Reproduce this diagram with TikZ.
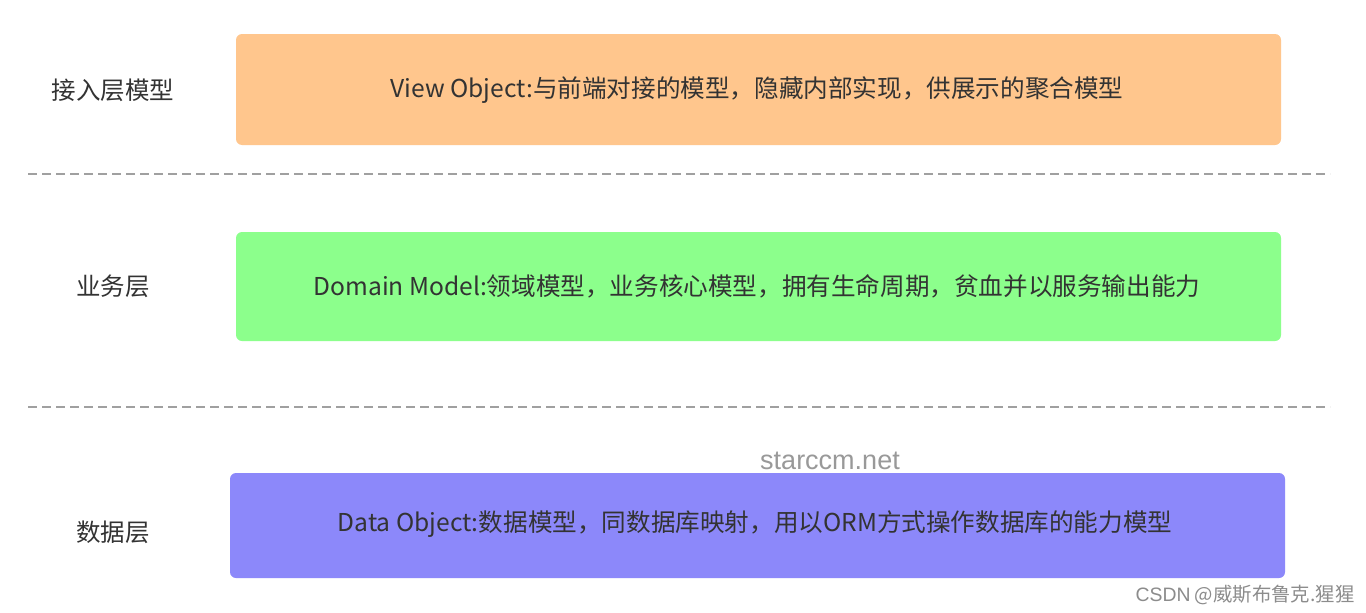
\documentclass[tikz,border=0pt]{standalone}
\usepackage{fontspec}
\setmainfont{Noto Sans CJK SC}
\newfontfamily\wmfont{Liberation Sans}
\definecolor{txt}{HTML}{333333}
\definecolor{orangebox}{HTML}{FFC68D}
\definecolor{greenbox}{HTML}{8CFF8C}
\definecolor{purplebox}{HTML}{8C88FA}
\definecolor{dashgray}{HTML}{A0A0A0}
\tikzset{
  boxtext/.style={text=txt, font=\fontsize{24.6}{28}\selectfont, inner sep=0pt},
  lefttext/.style={text=txt, font=\fontsize{24.5}{28}\selectfont, inner sep=0pt},
  sepline/.style={draw=dashgray, line width=1.3pt, dash pattern=on 9pt off 5pt}
}
\begin{document}
\begin{tikzpicture}[x=1pt,y=-1pt]
\useasboundingbox[fill=white] (0,0) rectangle (1366,613);
% boxes
\fill[orangebox, rounded corners=6pt] (236,34) rectangle (1281,145);
\fill[greenbox, rounded corners=6pt] (236,232) rectangle (1281,341);
\fill[purplebox, rounded corners=6pt] (230,473) rectangle (1285,578);
% box texts
\node[boxtext] (vo) at (757,90) {View Object:与前端对接的模型，隐藏内部实现，供展示的聚合模型};
\node[boxtext] (dm) at (757,286) {Domain Model:领域模型，业务核心模型，拥有生命周期，贫血并以服务输出能力};
\node[boxtext] (do) at (755,524) {Data Object:数据模型，同数据库映射，用以ORM方式操作数据库的能力模型};
% left labels
\node[lefttext] (l1) at (113,90) {接入层模型};
\node[lefttext] (l2) at (113,286) {业务层};
\node[lefttext] (l3) at (113,532) {数据层};
% separators
\coordinate (s1a) at (28,174);
\coordinate (s1b) at (1330,174);
\coordinate (s2a) at (28,407);
\coordinate (s2b) at (1330,407);
\draw[sepline] (s1a) -- (s1b);
\draw[sepline] (s2a) -- (s2b);
% watermarks
\node[text=gray!80, font=\wmfont\fontsize{27}{30}\selectfont, inner sep=0pt] (wm) at (830,461) {starccm.net};
\node[text=gray!90, font=\fontsize{19.4}{22}\selectfont, inner sep=0pt] (csdn) at (1245,595) {{\wmfont CSDN} @威斯布鲁克.猩猩};
\end{tikzpicture}
\end{document}
